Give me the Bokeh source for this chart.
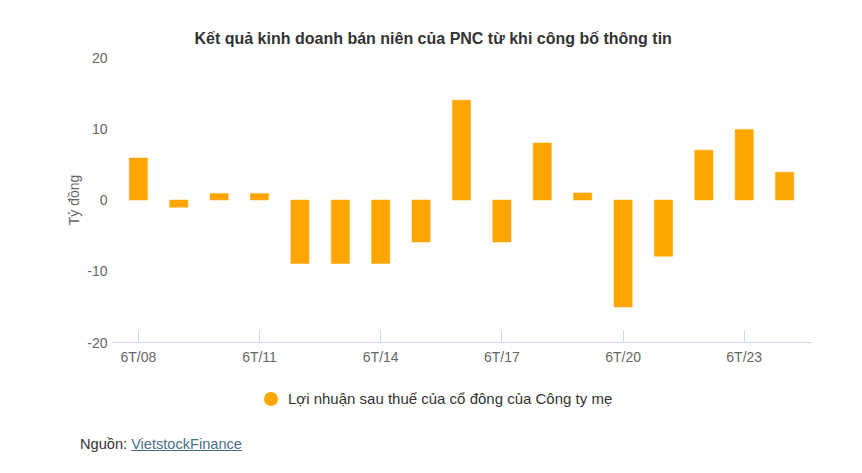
from bokeh.plotting import figure
from bokeh.models import ColumnDataSource, FixedTicker, Range1d, Div
from bokeh.layouts import column
from bokeh.embed import file_html
from bokeh.resources import INLINE

periods = ["6T/08", "6T/09", "6T/10", "6T/11", "6T/12", "6T/13", "6T/14", "6T/15",
           "6T/16", "6T/17", "6T/18", "6T/19", "6T/20", "6T/21", "6T/22", "6T/23", "6T/24"]
profit = [5.9, -1.0, 0.9, 0.9, -8.9, -8.9, -8.9, -5.9, 14.0, -5.9, 8.0, 1.0,
          -15.0, -7.9, 7.0, 9.9, 3.9]
shown_ticks = ["6T/08", "6T/11", "6T/14", "6T/17", "6T/20", "6T/23"]
y_ticks = [-20, -10, 0, 10, 20]
y_tick_labels = ["-20", "-10", "0", "10", "20"]
series_name = "Lợi nhuận sau thuế của cổ đông của Công ty mẹ"
title_text = "Kết quả kinh doanh bán niên của PNC từ khi công bố thông tin"

FONT = "Liberation Sans"
BAR = "#ffa500"
idx = list(range(len(periods)))
tops = [max(v, 0) for v in profit]
bottoms = [min(v, 0) for v in profit]
src = ColumnDataSource(dict(x=idx, top=tops, bottom=bottoms, label=periods, v=profit))

p = figure(width=862, height=380, output_backend="svg", toolbar_location=None,
           x_range=Range1d(-0.64, 16.69), y_range=Range1d(-20, 20),
           min_border_left=112, min_border_right=50, min_border_top=57,
           min_border_bottom=38, background_fill_color="white",
           border_fill_color="white", outline_line_color=None,
           title=title_text)

p.title.align = "left"
p.title.offset = 82
p.title.text_font = FONT
p.title.text_font_size = "16px"
p.title.text_font_style = "bold"
p.title.text_color = "#333333"
p.title.standoff = 22

p.vbar(x="x", top="top", bottom="bottom", width=0.45, source=src,
       fill_color=BAR, line_color=BAR, line_width=0.5)

p.xgrid.visible = False
p.ygrid.visible = False

tick_pos = [periods.index(t) for t in shown_ticks]
p.xaxis.ticker = FixedTicker(ticks=tick_pos)
p.xaxis.major_label_overrides = {i: periods[i] for i in tick_pos}
p.xaxis.axis_line_color = "#ccd6eb"
p.xaxis.major_tick_line_color = "#ccd6eb"
p.xaxis.major_tick_in = 12
p.xaxis.major_tick_out = 0
p.xaxis.minor_tick_line_color = None
p.xaxis.major_label_text_color = "#666666"
p.xaxis.major_label_text_font = FONT
p.xaxis.major_label_text_font_size = "14px"
p.xaxis.major_label_standoff = 6

p.yaxis.ticker = FixedTicker(ticks=y_ticks)
p.yaxis.major_label_overrides = dict(zip(y_ticks, y_tick_labels))
p.yaxis.axis_line_color = None
p.yaxis.major_tick_line_color = None
p.yaxis.minor_tick_line_color = None
p.yaxis.major_label_text_color = "#666666"
p.yaxis.major_label_text_font = FONT
p.yaxis.major_label_text_font_size = "14px"
p.yaxis.major_label_standoff = -1
p.yaxis.axis_label = "Tỷ đồng"
p.yaxis.axis_label_text_font = FONT
p.yaxis.axis_label_text_font_size = "14px"
p.yaxis.axis_label_text_font_style = "normal"
p.yaxis.axis_label_text_color = "#666666"
p.yaxis.axis_label_standoff = 2

html = (
    '<div style="position:relative;width:862px;height:93px;'
    f'font-family:\'{FONT}\';font-size:15px;">'
    '<div style="position:absolute;left:264px;top:8px;white-space:nowrap;'
    'display:flex;align-items:center;color:#333333;">'
    f'<span style="display:inline-block;width:14px;height:14px;border-radius:7px;'
    f'background:{BAR};margin-right:10px;"></span>{series_name}</div>'
    '<div style="position:absolute;left:80px;top:54px;white-space:nowrap;font-size:14.6px;">'
    '<span style="color:#333333">Nguồn: </span>'
    '<span style="color:#4a6f8a;text-decoration:underline">VietstockFinance</span>'
    '</div></div>'
)
div = Div(text=html, width=862, height=93, margin=0)

layout = column(p, div, spacing=0)
open("out.html", "w").write(file_html(layout, INLINE))
